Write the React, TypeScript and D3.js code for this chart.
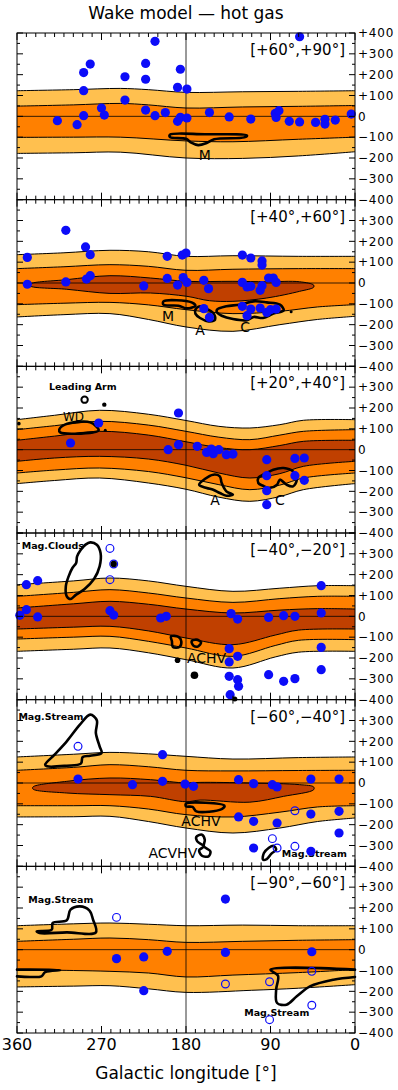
import React from 'react';
import * as d3 from 'd3';

type P = [number, number];

// ---- panel labels / axes ----
const panelLabels = ['[+60°,+90°]', '[+40°,+60°]', '[+20°,+40°]', '[−40°,−20°]', '[−60°,−40°]', '[−90°,−60°]'];
const xTickLabels = [360, 270, 180, 90, 0];
const yTickLabels = [400, 300, 200, 100, 0, -100, -200, -300, -400];

// ---- band contours (l, v) ----
const lightUp1: P[] = [[360, 123], [300, 128], [250, 134], [220, 128], [180, 115], [120, 118], [60, 120], [0, 123]];
const orangeUp1: P[] = [[360, 49], [300, 55], [250, 62], [220, 55], [180, 40], [120, 45], [60, 48], [0, 52]];
const orangeLo1: P[] = [[360, -101], [300, -100], [250, -100], [180, -118], [130, -122], [60, -110], [0, -100]];
const lightLo1: P[] = [[360, -178], [300, -175], [250, -172], [180, -200], [120, -202], [60, -190], [0, -170]];

const lightUp2: P[] = [[360, 136], [310, 145], [261, 157], [220, 150], [180, 128], [130, 131], [60, 128], [0, 128]];
const orangeUp2: P[] = [[360, 69], [310, 78], [261, 88], [220, 80], [180, 61], [130, 66], [60, 69], [0, 69]];
const darkUp2: P[] = [[346, -5], [307, 16], [261, 35], [218, 24], [179, 8], [130, 8], [94, 6], [59, 6], [44, -10]];
const darkLo2: P[] = [[346, -14], [307, -30], [261, -50], [218, -48], [179, -64], [155, -85], [130, -88], [94, -72], [59, -40], [44, -20]];
const orangeLo2: P[] = [[360, -104], [310, -97], [261, -93], [220, -105], [180, -128], [130, -147], [80, -136], [40, -115], [0, -104]];
const lightLo2: P[] = [[360, -163], [310, -152], [261, -147], [220, -175], [180, -211], [130, -232], [80, -200], [40, -175], [0, -160]];

const lightUp3: P[] = [[360, 144], [320, 165], [272, 189], [220, 170], [180, 140], [145, 112], [112, 104], [80, 120], [55, 141], [0, 144]];
const orangeUp3: P[] = [[360, 96], [320, 115], [272, 136], [220, 118], [180, 88], [145, 60], [112, 48], [80, 70], [55, 88], [0, 96]];
const darkUp3: P[] = [[360, 45], [320, 65], [272, 88], [220, 70], [180, 38], [145, 10], [112, 0], [80, 20], [55, 40], [0, 45]];
const darkLo3: P[] = [[360, -56], [320, -40], [272, -32], [220, -45], [180, -75], [145, -112], [112, -136], [80, -115], [55, -80], [0, -56]];
const orangeLo3: P[] = [[360, -112], [320, -98], [272, -88], [220, -105], [180, -135], [145, -168], [112, -192], [80, -170], [55, -136], [0, -112]];
const lightLo3: P[] = [[360, -163], [320, -148], [272, -136], [220, -160], [180, -190], [145, -228], [112, -248], [80, -225], [55, -192], [0, -163]];

const lightUp4: P[] = [[360, 152], [300, 170], [261, 184], [220, 170], [180, 144], [130, 120], [80, 135], [40, 147], [0, 147]];
const orangeUp4: P[] = [[360, 96], [300, 115], [261, 128], [220, 112], [180, 88], [130, 67], [80, 85], [40, 96], [0, 96]];
const darkUp4: P[] = [[360, 40], [300, 60], [261, 72], [220, 58], [180, 35], [130, 16], [80, 30], [40, 37], [0, 35]];
const darkLo4: P[] = [[360, -61], [300, -52], [261, -48], [220, -70], [180, -104], [130, -136], [85, -90], [60, -66], [0, -61]];
const orangeLo4: P[] = [[360, -109], [300, -100], [261, -96], [220, -120], [180, -152], [130, -192], [85, -140], [60, -115], [0, -112]];
const lightLo4: P[] = [[360, -168], [300, -158], [261, -152], [220, -175], [180, -208], [130, -248], [85, -195], [60, -172], [0, -168]];

const lightUp5: P[] = [[360, 125], [300, 138], [261, 147], [220, 140], [180, 128], [130, 115], [60, 122], [0, 125]];
const orangeUp5: P[] = [[360, 61], [300, 75], [261, 88], [220, 78], [180, 61], [130, 58], [60, 60], [0, 61]];
const darkUp5: P[] = [[343, -19], [307, 8], [261, 24], [218, 16], [180, 0], [165, 3], [112, 0], [59, -8], [44, -19]];
const darkLo5: P[] = [[343, -29], [307, -48], [261, -56], [218, -64], [180, -90], [165, -82], [112, -92], [76, -64], [44, -32]];
const orangeLo5: P[] = [[360, -109], [300, -109], [261, -109], [220, -125], [180, -152], [130, -163], [80, -140], [40, -115], [0, -109]];
const lightLo5: P[] = [[360, -163], [300, -162], [261, -160], [220, -185], [180, -216], [130, -240], [80, -216], [40, -185], [0, -168]];

const lightUp6: P[] = [[360, 115], [300, 124], [261, 128], [220, 122], [180, 115], [120, 118], [60, 115], [0, 115]];
const orangeUp6: P[] = [[360, 40], [300, 50], [261, 56], [220, 48], [180, 35], [120, 40], [60, 45], [0, 48]];
const orangeLo6: P[] = [[360, -96], [300, -100], [261, -104], [220, -112], [180, -131], [130, -122], [60, -110], [0, -96]];
const lightLo6: P[] = [[360, -179], [300, -175], [261, -173], [220, -188], [180, -205], [110, -195], [60, -185], [0, -168]];

// ---- observed clouds: filled / open (l, v) ----
const filled1: P[] = [[317, -21], [296, -40], [289, 210], [289, 123], [289, 3], [282, 251], [270, 40], [267, 6], [245, 190], [245, 78], [223, 254], [223, 178], [223, 30], [213, 360], [213, 3], [202, 18], [189, 139], [189, -24], [186, 226], [186, -5], [179, 131], [179, -8], [155, 18], [134, -3], [111, -13], [85, 14], [84, -5], [81, 27], [70, -24], [59, 382], [59, -27], [42, -29], [32, -14], [32, -37], [21, -18], [4, 11]];
const open1: P[] = [];

const filled2: P[] = [[349, 123], [349, -6], [308, 253], [308, 5], [287, 173], [286, 19], [282, 136], [282, 35], [225, -14], [200, 128], [200, 22], [189, -10], [184, 134], [183, 26], [180, 144], [179, 3], [161, 13], [156, -27], [161, -123], [155, -165], [120, 134], [120, 3], [115, -19], [111, 120], [111, -16], [99, 106], [99, 86], [99, -13], [101, -35], [92, 24], [87, 24], [84, 3], [120, -112], [115, -157], [111, -125], [101, -120], [94, -141], [90, -128], [84, -125]];
const open2: P[] = [];

const filled3: P[] = [[303, 32], [273, 128], [199, 0], [188, 176], [188, 24], [168, 16], [158, -13], [153, 3], [151, -19], [145, 0], [137, -24], [130, -21], [94, -48], [94, -125], [94, -197], [94, -264], [64, -42], [54, -40], [64, -125], [54, -147]];
const open3: P[] = [];

const filled4: P[] = [[357, 5], [350, 152], [350, 32], [338, 171], [338, -3], [261, 27], [257, 6], [207, -8], [201, 0], [132, 13], [125, -13], [92, -5], [76, 3], [64, 0], [36, 147], [36, 16], [134, -155], [134, -219], [125, -192], [134, -288], [125, -304], [124, -336], [133, -376], [92, -280], [76, -312], [64, -299], [36, -149], [36, -256]];
const open4: P[] = [[261, 326], [261, 176], [257, 251]];

const filled5: P[] = [[295, 19], [237, -8], [205, 136], [205, 8], [181, -5], [172, -16], [124, 16], [108, -3], [88, -8], [83, -19], [47, 19], [17, 19], [124, -163], [108, -184], [83, -192], [47, -149], [17, -136], [17, -240], [108, -312], [47, -328]];
const open5: P[] = [[295, 176], [64, -133], [88, -267], [83, -312], [64, -304]];

const filled6: P[] = [[254, -43], [225, -35], [200, -8], [138, 243], [138, -13], [46, -10], [225, -197]];
const open6: P[] = [[254, 155], [138, -165], [91, -154], [91, -336], [46, -104], [46, -267]];

// ---- HI complexes outlines (l, v) ----
const clouds1: P[][] = [
  [[197, -88], [160, -86], [115, -92], [118, -101], [150, -110], [158, -128], [167, -138], [175, -125], [180, -108], [197, -100]],
];
const clouds2: P[][] = [
  [[204, -88], [174, -93], [170, -109], [179, -122], [188, -109], [204, -104]],
  [[170, -128], [165, -112], [160, -120], [151, -144], [149, -176], [156, -184], [165, -168], [170, -147]],
  [[147, -128], [137, -112], [123, -104], [108, -88], [94, -93], [80, -104], [76, -131], [87, -147], [98, -168], [108, -163], [115, -179], [130, -173], [142, -157], [147, -141]],
];
const clouds3: P[][] = [
  [[315, 96], [309, 120], [282, 131], [273, 93], [279, 83], [314, 83]],
  [[166, -168], [160, -141], [151, -120], [144, -128], [142, -160], [137, -200], [130, -216], [137, -221], [144, -208], [151, -192], [158, -184]],
  [[103, -136], [94, -112], [87, -96], [76, -88], [66, -104], [62, -144], [66, -176], [73, -168], [80, -144], [83, -168], [91, -184], [98, -173], [103, -160]],
];
const clouds4: P[][] = [
  [[282, 355], [275, 344], [271, 304], [272, 240], [278, 179], [288, 131], [297, 104], [303, 83], [307, 96], [308, 144], [305, 192], [301, 232], [297, 256], [296, 288], [292, 320], [287, 344]],
  [[196, -96], [188, -99], [185, -120], [187, -147], [194, -147], [195, -120]],
  [[174, -120], [169, -112], [164, -125], [167, -144], [172, -141]],
];
const clouds5: P[][] = [
  [[330, 88], [320, 136], [307, 200], [293, 280], [282, 328], [275, 301], [276, 240], [272, 176], [270, 144], [282, 131], [290, 125], [292, 93], [307, 83], [328, 80]],
  [[180, -99], [139, -109], [142, -125], [169, -136], [173, -115], [180, -112]],
  [[169, -259], [163, -248], [160, -272], [161, -304], [154, -328], [156, -352], [163, -349], [166, -323], [161, -304], [168, -280]],
  [[98, -368], [97, -336], [92, -312], [87, -301], [84, -320], [89, -339], [94, -365]],
];
const clouds6: P[][] = [
  [[339, 88], [323, 96], [322, 128], [307, 141], [303, 192], [293, 208], [283, 189], [279, 144], [276, 83], [307, 83], [336, 80]],
];
const streams6: P[][] = [
  [[360, -96], [314, -98], [330, -108], [334, -128], [346, -131], [360, -128]],
  [[0, -96], [90, -96], [82, -125], [84, -192], [83, -256], [73, -264], [62, -224], [48, -176], [23, -144], [0, -131]],
];

// small black dots (l, v, r) and rings
const dots2: [number, number, number][] = [[68, -138, 1.5]];
const dots3: [number, number, number][] = [[358, 125, 1.8], [267, 216, 2.2], [266, 93, 1.5]];
const dots4: [number, number, number][] = [[257, 251, 3.2], [189, -211, 2.8], [171, -283, 3.8], [128, -397, 2.5]];
const rings3: P[] = [[288, 240]];

type Note = { t: string; l: number; v: number; a?: string; s: number; b?: boolean };
const notes1: Note[] = [{ t: 'M', l: 160, v: -210, a: 'middle', s: 14 }];
const notes2: Note[] = [
  { t: 'M', l: 199, v: -181, a: 'middle', s: 14 },
  { t: 'A', l: 165, v: -251, a: 'middle', s: 14 },
  { t: 'C', l: 117, v: -237, a: 'middle', s: 14 },
];
const notes3: Note[] = [
  { t: 'Leading Arm', l: 326, v: 285, s: 9.5, b: true },
  { t: 'WD', l: 311, v: 136, s: 12 },
  { t: 'A', l: 149, v: -264, a: 'middle', s: 14 },
  { t: 'C', l: 80, v: -264, a: 'middle', s: 14 },
];
const notes4: Note[] = [
  { t: 'Mag.Clouds', l: 355, v: 325, s: 9.5, b: true },
  { t: 'ACHV', l: 179, v: -224, s: 14 },
];
const notes5: Note[] = [
  { t: 'Mag.Stream', l: 358.5, v: 304, s: 9.5, b: true },
  { t: 'ACHV', l: 185, v: -205, s: 14 },
  { t: 'ACVHV', l: 220, v: -360, s: 14 },
  { t: 'Mag.Stream', l: 78, v: -355, s: 9.5, b: true },
];
const notes6: Note[] = [
  { t: 'Mag.Stream', l: 348, v: 224, s: 9.5, b: true },
  { t: 'Mag.Stream', l: 118, v: -320, s: 9.5, b: true },
];

const panels = [
  { lu: lightUp1, ou: orangeUp1, ol: orangeLo1, ll: lightLo1, dk: null, full: false, f: filled1, o: open1, c: clouds1, s: [], d: [], r: [], n: notes1 },
  { lu: lightUp2, ou: orangeUp2, ol: orangeLo2, ll: lightLo2, dk: [darkUp2, darkLo2], full: false, f: filled2, o: open2, c: clouds2, s: [], d: dots2, r: [], n: notes2 },
  { lu: lightUp3, ou: orangeUp3, ol: orangeLo3, ll: lightLo3, dk: [darkUp3, darkLo3], full: true, f: filled3, o: open3, c: clouds3, s: [], d: dots3, r: rings3, n: notes3 },
  { lu: lightUp4, ou: orangeUp4, ol: orangeLo4, ll: lightLo4, dk: [darkUp4, darkLo4], full: true, f: filled4, o: open4, c: clouds4, s: [], d: dots4, r: [], n: notes4 },
  { lu: lightUp5, ou: orangeUp5, ol: orangeLo5, ll: lightLo5, dk: [darkUp5, darkLo5], full: false, f: filled5, o: open5, c: clouds5, s: [], d: [], r: [], n: notes5 },
  { lu: lightUp6, ou: orangeUp6, ol: orangeLo6, ll: lightLo6, dk: null, full: false, f: filled6, o: open6, c: clouds6, s: streams6, d: [], r: [], n: notes6 },
];

const W = 398, H = 1090;
const left = 17, right = 355, top0 = 33, panelH = 1000 / 6;
const LIGHT = '#ffc04f', ORANGE = '#ff8000', DARK = '#c04000', BLUE = '#0c0cf8';

const x = d3.scaleLinear().domain([360, 0]).range([left, right]);
const lonTicks = d3.range(0, 361, 10);
const velTicks = d3.range(-400, 401, 50);

function Panel({ p, i }: { p: any; i: number }) {
  const y0 = top0 + i * panelH;
  const y1 = y0 + panelH;
  const y = d3.scaleLinear().domain([400, -400]).range([y0, y1]);
  const curve = d3.curveCatmullRom.alpha(0.5);
  const line = d3.line<P>().x(d => x(d[0])).y(d => y(d[1])).curve(curve);
  const area = d3.area<P>().x(d => x(d[0])).y0(y1).y1(d => y(d[1])).curve(curve);
  const closed = d3.line<P>().x(d => x(d[0])).y(d => y(d[1])).curve(d3.curveCatmullRomClosed.alpha(0.5));
  const clip = `clip${i}`;
  const bandLines: P[][] = [p.lu, p.ou, p.ol, p.ll];
  if (p.dk && p.full) bandLines.push(p.dk[0], p.dk[1]);
  const darkShape = p.dk && !p.full ? closed(p.dk[0].concat(p.dk[1].slice().reverse())) : null;
  const labels = i === 0 ? yTickLabels : yTickLabels.slice(1);

  return (
    <g>
      <defs>
        <clipPath id={clip}><rect x={left} y={y0} width={right - left} height={panelH} /></clipPath>
      </defs>
      <g clipPath={`url(#${clip})`}>
        <path d={area(p.lu) || ''} fill={LIGHT} />
        <path d={area(p.ou) || ''} fill={ORANGE} />
        {p.dk && p.full && <path d={area(p.dk[0]) || ''} fill={DARK} />}
        {p.dk && p.full && <path d={area(p.dk[1]) || ''} fill={ORANGE} />}
        <path d={area(p.ol) || ''} fill={LIGHT} />
        <path d={area(p.ll) || ''} fill="#fff" />
        {darkShape && <path d={darkShape} fill={DARK} stroke="#000" strokeWidth={1} />}
        {bandLines.map((b, k) => <path key={k} d={line(b) || ''} fill="none" stroke="#000" strokeWidth={1} />)}
        <line x1={left} x2={right} y1={y(0)} y2={y(0)} stroke="#000" strokeWidth={0.8} />
        <line x1={x(180)} x2={x(180)} y1={y0} y2={y1} stroke="#000" strokeWidth={0.8} />
      </g>
      {p.c.map((c: P[], k: number) => (
        <path key={k} d={closed(c) || ''} fill="none" stroke="#000" strokeWidth={2.6} strokeLinejoin="round" />
      ))}
      {p.s.map((c: P[], k: number) => (
        <path key={k} d={line(c) || ''} fill="none" stroke="#000" strokeWidth={2.6} strokeLinejoin="round" strokeLinecap="round" />
      ))}
      {p.r.map((d: P, k: number) => (
        <circle key={k} cx={x(d[0])} cy={y(d[1])} r={3.2} fill="none" stroke="#000" strokeWidth={2} />
      ))}
      {p.n.map((n: Note, k: number) => (
        <text key={k} x={x(n.l)} y={y(n.v)} textAnchor={n.a || 'start'} fontSize={n.s}
          fontWeight={n.b ? 'bold' : 'normal'}>{n.t}</text>
      ))}
      {p.f.map((d: P, k: number) => <circle key={k} cx={x(d[0])} cy={y(d[1])} r={4.6} fill={BLUE} />)}
      {p.o.map((d: P, k: number) => <circle key={k} cx={x(d[0])} cy={y(d[1])} r={3.9} fill="none" stroke={BLUE} strokeWidth={1.2} />)}
      {p.d.map((d: [number, number, number], k: number) => <circle key={k} cx={x(d[0])} cy={y(d[1])} r={d[2]} fill="#000" />)}
      {/* ticks */}
      {lonTicks.map(t => {
        const len = t % 90 === 0 ? 7 : 4;
        return (
          <g key={t}>
            <line x1={x(t)} x2={x(t)} y1={y0} y2={y0 + len} stroke="#000" />
            <line x1={x(t)} x2={x(t)} y1={y1} y2={y1 - len} stroke="#000" />
          </g>
        );
      })}
      {velTicks.map(t => {
        const len = t % 100 === 0 ? 6 : 3;
        return (
          <g key={t}>
            <line x1={left} x2={left + len} y1={y(t)} y2={y(t)} stroke="#000" />
            <line x1={right} x2={right - len} y1={y(t)} y2={y(t)} stroke="#000" />
          </g>
        );
      })}
      <rect x={left} y={y0} width={right - left} height={panelH} fill="none" stroke="#000" strokeWidth={1} />
      {labels.map(t => (
        <text key={t} x={358} y={y(t) + 4.3} fontSize={12} letterSpacing={0.8}>
          {t > 0 ? `+${t}` : t < 0 ? `−${-t}` : '0'}
        </text>
      ))}
      <text x={345} y={y0 + 22} textAnchor="end" fontSize={15}>{panelLabels[i]}</text>
    </g>
  );
}

export default function App() {
  return (
    <svg width={W} height={H} style={{ position: 'absolute', left: 0, top: 0, background: '#fff' }}
      fontFamily="DejaVu Sans">
      <text x={186} y={19} textAnchor="middle" fontSize={17}>Wake model — hot gas</text>
      {panels.map((p, i) => <Panel key={i} p={p} i={i} />)}
      {xTickLabels.map(t => (
        <text key={t} x={x(t)} y={1050} textAnchor="middle" fontSize={16}>{t}</text>
      ))}
      <text x={186} y={1079} textAnchor="middle" fontSize={17}>Galactic longitude [°]</text>
    </svg>
  );
}
